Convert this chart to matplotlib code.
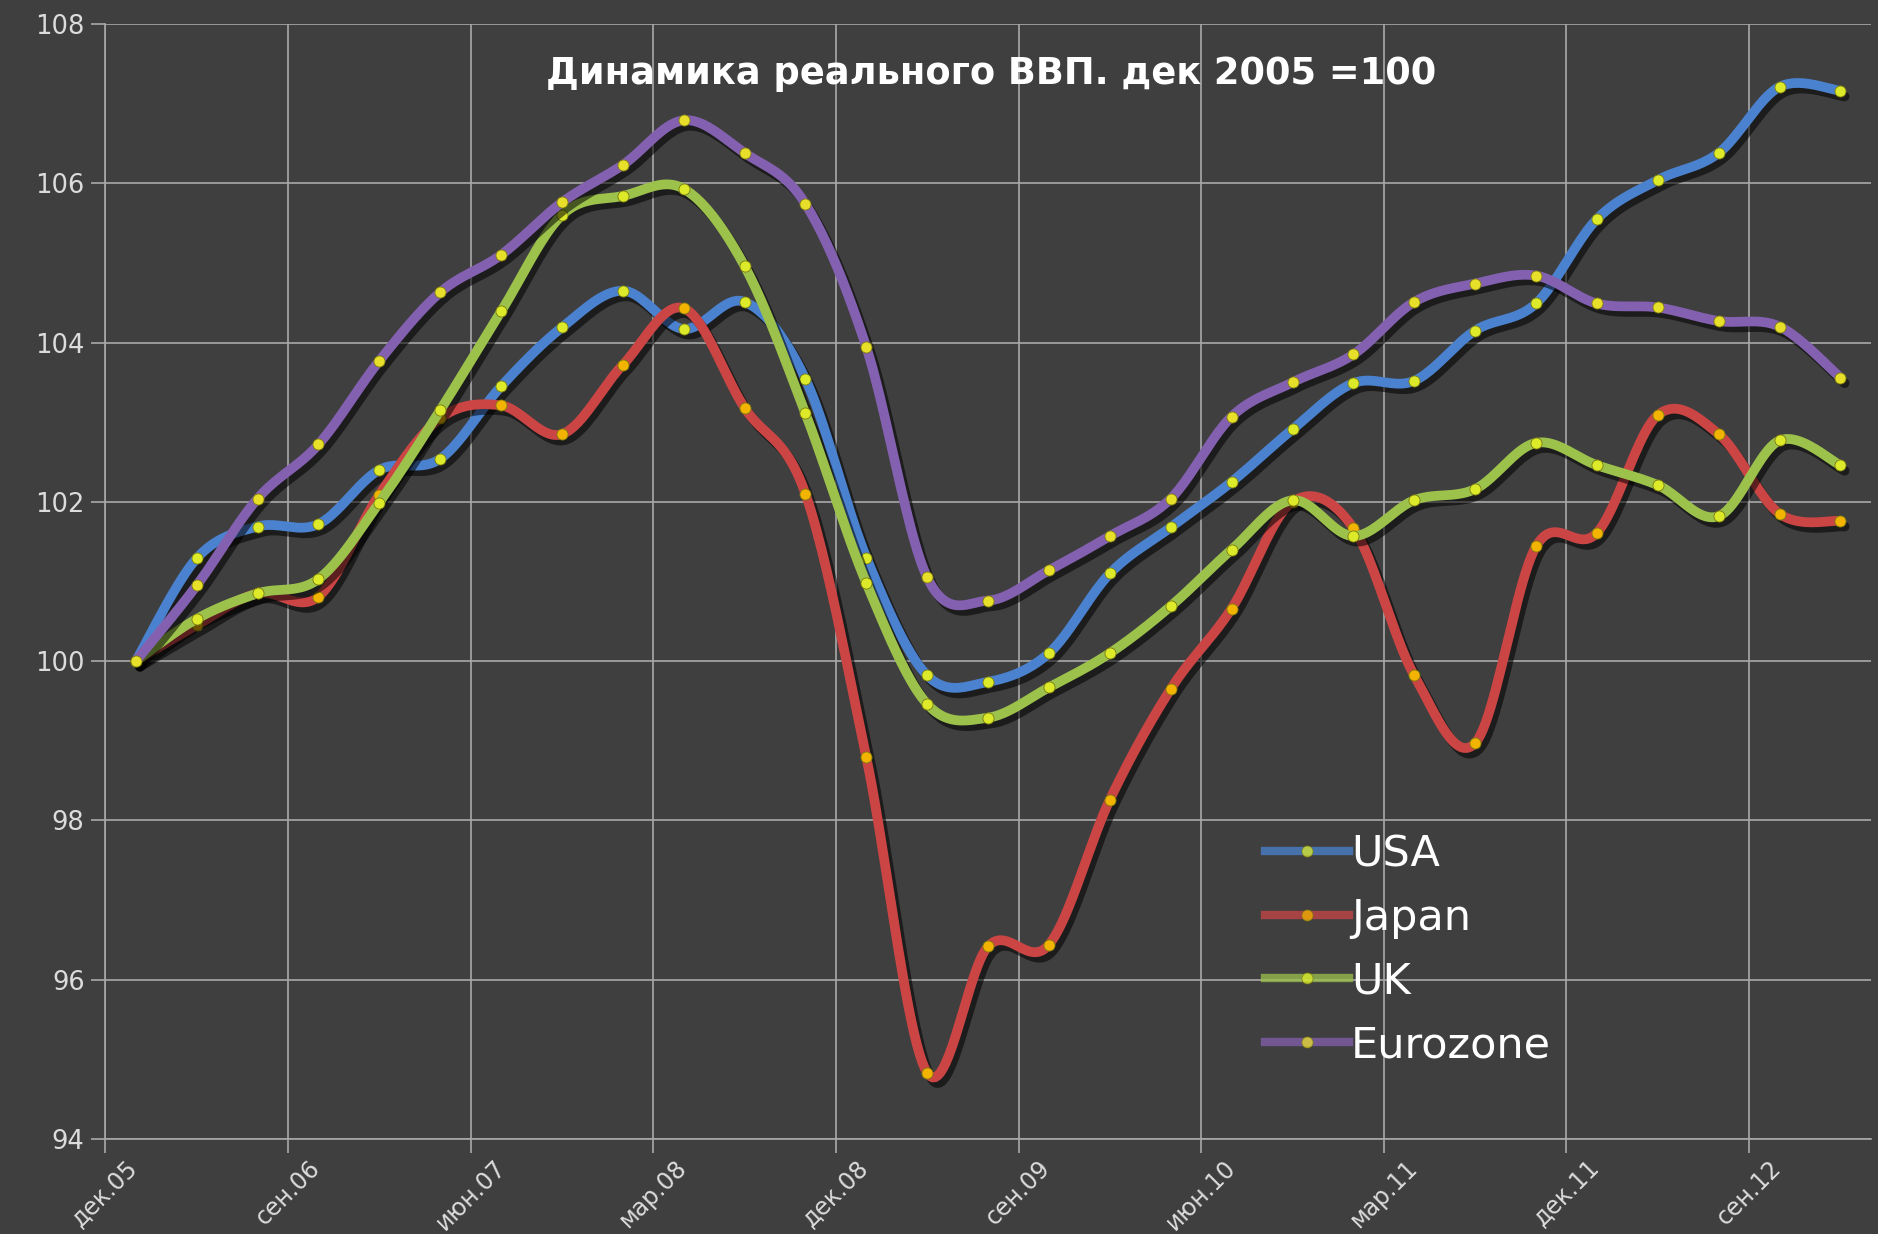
import numpy as np
import matplotlib.pyplot as plt
import matplotlib.patheffects as pe
from matplotlib.lines import Line2D

# quarterly real GDP, dec 2005 = 100 (29 quarters, dec.05 .. dec.12)
tick_labels = ['дек.05', 'сен.06', 'июн.07', 'мар.08', 'дек.08',
               'сен.09', 'июн.10', 'мар.11', 'дек.11', 'сен.12']

usa = [100.0, 101.29, 101.69, 101.72, 102.40, 102.54, 103.45, 104.19, 104.65, 104.17,
       104.51, 103.54, 101.30, 99.82, 99.74, 100.10, 101.10, 101.68, 102.25, 102.91,
       103.49, 103.52, 104.15, 104.49, 105.55, 106.04, 106.38, 107.21, 107.16]
japan = [100.0, 100.45, 100.85, 100.81, 102.09, 103.05, 103.21, 102.85, 103.72, 104.43,
         103.18, 102.10, 98.79, 94.83, 96.42, 96.44, 98.26, 99.65, 100.66, 102.00,
         101.67, 99.82, 98.97, 101.44, 101.61, 103.09, 102.85, 101.85, 101.76]
uk = [100.0, 100.53, 100.85, 101.03, 101.99, 103.15, 104.39, 105.60, 105.84, 105.93,
      104.96, 103.11, 100.98, 99.46, 99.29, 99.67, 100.10, 100.69, 101.40, 102.02,
      101.57, 102.02, 102.16, 102.74, 102.46, 102.21, 101.82, 102.77, 102.46]
eurozone = [100.0, 100.95, 102.04, 102.72, 103.77, 104.63, 105.10, 105.76, 106.23, 106.79,
            106.38, 105.74, 103.94, 101.05, 100.76, 101.14, 101.57, 102.04, 103.07, 103.50,
            103.85, 104.51, 104.74, 104.84, 104.49, 104.44, 104.27, 104.20, 103.56]

series = [('USA', usa, '#4a82cf', '#dcea2a'),
          ('Japan', japan, '#cc4545', '#f2b400'),
          ('UK', uk, '#9cc24c', '#dcea2a'),
          ('Eurozone', eurozone, '#8460b0', '#e8df2a')]


def smooth(x, y, n=24):
    # excel-like smoothed line (catmull-rom through the points)
    x = np.asarray(x, float)
    y = np.asarray(y, float)
    px = np.concatenate([[x[0]], x, [x[-1]]])
    py = np.concatenate([[y[0]], y, [y[-1]]])
    t = np.linspace(0, 1, n)
    outx, outy = [], []
    for i in range(1, len(px) - 2):
        c1x = px[i] + (px[i + 1] - px[i - 1]) / 6
        c1y = py[i] + (py[i + 1] - py[i - 1]) / 6
        c2x = px[i + 1] - (px[i + 2] - px[i]) / 6
        c2y = py[i + 1] - (py[i + 2] - py[i]) / 6
        bx = (1 - t) ** 3 * px[i] + 3 * (1 - t) ** 2 * t * c1x + 3 * (1 - t) * t ** 2 * c2x + t ** 3 * px[i + 1]
        by = (1 - t) ** 3 * py[i] + 3 * (1 - t) ** 2 * t * c1y + 3 * (1 - t) * t ** 2 * c2y + t ** 3 * py[i + 1]
        outx.append(bx)
        outy.append(by)
    return np.concatenate(outx), np.concatenate(outy)


bg = '#3f3f3f'
grid_c = '#a9a9a9'
fig = plt.figure(figsize=(18.78, 12.34), dpi=100, facecolor=bg)
ax = fig.add_axes([0.0561, 0.0770, 0.9401, 0.9036])
ax.set_facecolor(bg)

shadow = [pe.SimpleLineShadow(offset=(3, -4), shadow_color='black', alpha=0.55), pe.Normal()]
handles = []
for k, (name, vals, col, mcol) in enumerate(series):
    x = np.arange(len(vals))
    sx, sy = smooth(x, vals)
    ax.plot(sx, sy, color=col, lw=7, solid_capstyle='round', zorder=3 + k,
            path_effects=shadow)
    ax.plot(x, vals, 'o', ms=8, mfc=mcol, mec='#7a7a10', mew=0.6, zorder=3 + k)
    handles.append(Line2D([], [], color=col, lw=6, alpha=0.75, marker='o', ms=8,
                          mfc=mcol, mec='#7a7a10', mew=0.6))

n = len(usa)
ax.set_xlim(-0.5, n - 0.5)
ax.set_ylim(94, 108)
ax.set_yticks(np.arange(94, 109, 2))
ax.set_xticks(np.arange(-0.5, n - 1, 3))
ax.set_xticklabels(tick_labels, rotation=45, ha='center', va='top')
ax.grid(True, color=grid_c, lw=1.2)
ax.set_axisbelow(True)
for s in ['top', 'right']:
    ax.spines[s].set_visible(False)
for s in ['left', 'bottom']:
    ax.spines[s].set_color(grid_c)
    ax.spines[s].set_linewidth(1.2)
ax.tick_params(colors=grid_c, length=10, width=1.2)
ax.tick_params(axis='x', pad=2)
ax.tick_params(axis='y', pad=5)
for lab in ax.get_yticklabels():
    lab.set_color('#dcdcdc')
    lab.set_fontsize(18.5)
    lab.set_family('DejaVu Sans')
for lab in ax.get_xticklabels():
    lab.set_color('#dcdcdc')
    lab.set_fontsize(17)
    lab.set_family('DejaVu Sans')

fig.text(0.5277, 0.9405, 'Динамика реального ВВП. дек 2005 =100', color='white',
         fontsize=26.5, fontweight='bold', family='DejaVu Sans', ha='center', va='center')

leg = ax.legend(handles, [s[0] for s in series], loc='upper left',
                bbox_to_anchor=(0.662, 0.342), bbox_transform=fig.transFigure,
                frameon=False, handlelength=1.95, handletextpad=0.05,
                labelspacing=0.50, borderpad=0, prop={'family': 'DejaVu Sans', 'size': 31})
for t in leg.get_texts():
    t.set_color('white')

fig.savefig('out.png', dpi=100, facecolor=bg)
